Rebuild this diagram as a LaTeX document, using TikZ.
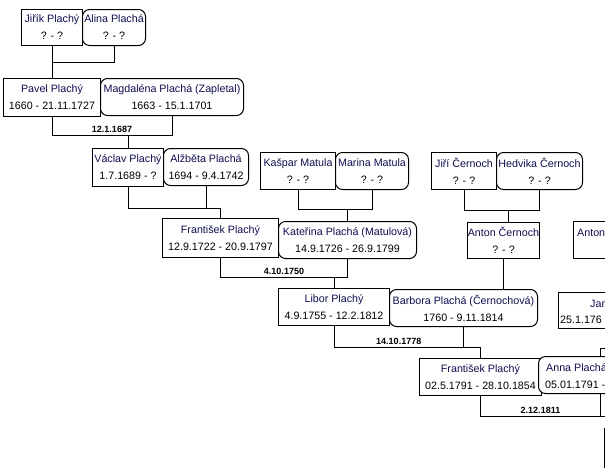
\documentclass[tikz,border=0pt]{standalone}
\usepackage{fontspec}
\setmainfont{Liberation Sans}
\usetikzlibrary{calc}
\definecolor{namec}{RGB}{15,15,80}
\newcommand{\pname}[1]{\textcolor{namec}{#1}}
\begin{document}
\begin{tikzpicture}[x=1pt,y=-1pt,
  person/.style={draw=black, line width=1pt, fill=white, inner sep=0pt,
    anchor=north west, align=center, font=\fontsize{10.7}{17}\selectfont},
  wife/.style={person, rounded corners=7pt},
  conn/.style={draw=black, line width=1pt},
  wed/.style={font=\fontsize{9}{10}\selectfont\bfseries, anchor=south, inner sep=0pt},
  frag/.style={anchor=base west, inner sep=0pt, font=\fontsize{10.7}{13}\selectfont}
]
\useasboundingbox (0,0) rectangle (605,472);
\clip (0,0) rectangle (605,472);

\coordinate (L0) at (0,62);
\coordinate (L1) at (0,135);
\coordinate (L2) at (0,208);
\coordinate (L3) at (0,209);
\coordinate (L4) at (0,277);
\coordinate (L5) at (0,210);
\coordinate (L6) at (0,347);
\coordinate (L7) at (0,348);
\coordinate (L8) at (0,416);
\coordinate (redge) at (640,0);

% ---- boxes ----
\node[person, minimum width=61pt, minimum height=36pt] (jirik) at (21,9) {\pname{Jiřík Plachý}\\? - ?};
\node[wife, minimum width=63pt, minimum height=36pt] (alina) at (82,9) {\pname{Alina Plachá}\\? - ?};

\node[person, minimum width=97pt, minimum height=38pt] (pavel) at (3,78) {\pname{Pavel Plachý}\\1660 - 21.11.1727};
\node[wife, minimum width=143pt, minimum height=37pt] (magda) at (100,78) {\pname{Magdaléna Plachá (Zapletal)}\\1663 - 15.1.1701};

\node[person, minimum width=71pt, minimum height=38pt] (vaclav) at (92,148) {\pname{Václav Plachý}\\1.7.1689 - ?};
\node[wife, minimum width=85pt, minimum height=37pt] (alzbeta) at (163,148) {\pname{Alžběta Plachá}\\1694 - 9.4.1742};

\node[person, minimum width=75pt, minimum height=37pt] (kaspar) at (260,152) {\pname{Kašpar Matula}\\? - ?};
\node[wife, minimum width=73pt, minimum height=37pt] (marina) at (335,152) {\pname{Marina Matula}\\? - ?};

\node[person, minimum width=116pt, minimum height=39pt] (frant1) at (162,218) {\pname{František Plachý}\\12.9.1722 - 20.9.1797};
\node[wife, minimum width=138pt, minimum height=37pt] (katerina) at (278,221) {\pname{Kateřina Plachá (Matulová)}\\14.9.1726 - 26.9.1799};

\node[person, minimum width=65pt, minimum height=37pt] (jiri) at (431,152) {\pname{Jiří Černoch}\\? - ?};
\node[wife, minimum width=86pt, minimum height=37pt] (hedvika) at (496,152) {\pname{Hedvika Černoch}\\? - ?};

\node[person, minimum width=72pt, minimum height=36pt] (anton) at (467,222) {\pname{Anton Černoch}\\? - ?};
\node[person, minimum width=80pt, minimum height=37pt] (anton2) at (573,221) {};
\node[frag] (anton2t) at (577,236) {\pname{Anton}};

\node[person, minimum width=111pt, minimum height=37pt] (libor) at (278,288) {\pname{Libor Plachý}\\4.9.1755 - 12.2.1812};
\node[wife, minimum width=148pt, minimum height=37pt] (barbora) at (389,289) {\pname{Barbora Plachá (Černochová)}\\1760 - 9.11.1814};

\node[person, minimum width=120pt, minimum height=36pt] (jan) at (558,292) {};
\node[frag] (jant) at (590,307) {\pname{Jan}};
\node[frag] (jand) at (560,323) {25.1.176};

\node[person, minimum width=122pt, minimum height=37pt] (frant2) at (419,358) {\pname{František Plachý}\\02.5.1791 - 28.10.1854};
\node[wife, minimum width=124pt, minimum height=37pt] (anna) at (538,356) {};
\node[frag] (annat) at (546,371) {\pname{Anna Plachá}};
\node[frag] (annad) at (545,388) {05.01.1791 -};

\node[person, minimum width=100pt, minimum height=39pt] (child) at (604,428) {};

% ---- connectors ----
\draw[conn] (jirik.south) -- (jirik.south |- L0) -| (alina.south);
\draw[conn] (pavel.north) -- (pavel.north |- L0);

\draw[conn] (pavel.south) -- (pavel.south |- L1) -| (magda.south);
\draw[conn] (vaclav.north) -- (vaclav.north |- L1);
\node[wed] (w1) at ($(pavel.south |- L1)!0.5!(magda.south |- L1) + (0,-2)$) {12.1.1687};

\draw[conn] (vaclav.south) -- (vaclav.south |- L2) -| (frant1.north);
\draw[conn] (alzbeta.south) -- (alzbeta.south |- L2);

\draw[conn] (kaspar.south) -- (kaspar.south |- L3) -| (marina.south);
\draw[conn] (katerina.north) -- (katerina.north |- L3);

\draw[conn] (frant1.south) -- (frant1.south |- L4) -| (katerina.south);
\draw[conn] (libor.north) -- (libor.north |- L4);
\node[wed] (w2) at ($(frant1.south |- L4)!0.5!(katerina.south |- L4) + (0,-2)$) {4.10.1750};

\draw[conn] (jiri.south) -- (jiri.south |- L5) -| (hedvika.south);
\draw[conn] ($(anton.north)+(5,0)$) -- ($(anton.north |- L5)+(5,0)$);

\draw[conn] (anton.south) -- (anton.south |- barbora.north);

\draw[conn] (libor.south) -- (libor.south |- L6) -| (frant2.north);
\draw[conn] (barbora.south) -- (barbora.south |- L6);
\node[wed] (w3) at ($(libor.south |- L6)!0.5!(barbora.south |- L6) + (0,-2)$) {14.10.1778};

\draw[conn] (anna.north) -- (anna.north |- L7) -- (redge |- L7);

\draw[conn] (frant2.south) -- (frant2.south |- L8) -- (redge |- L8);
\draw[conn] (anna.south) -- (anna.south |- L8);
\node[wed] (w4) at ($(frant2.south |- L8)!0.5!(anna.south |- L8) + (0,-2)$) {2.12.1811};
\end{tikzpicture}
\end{document}
